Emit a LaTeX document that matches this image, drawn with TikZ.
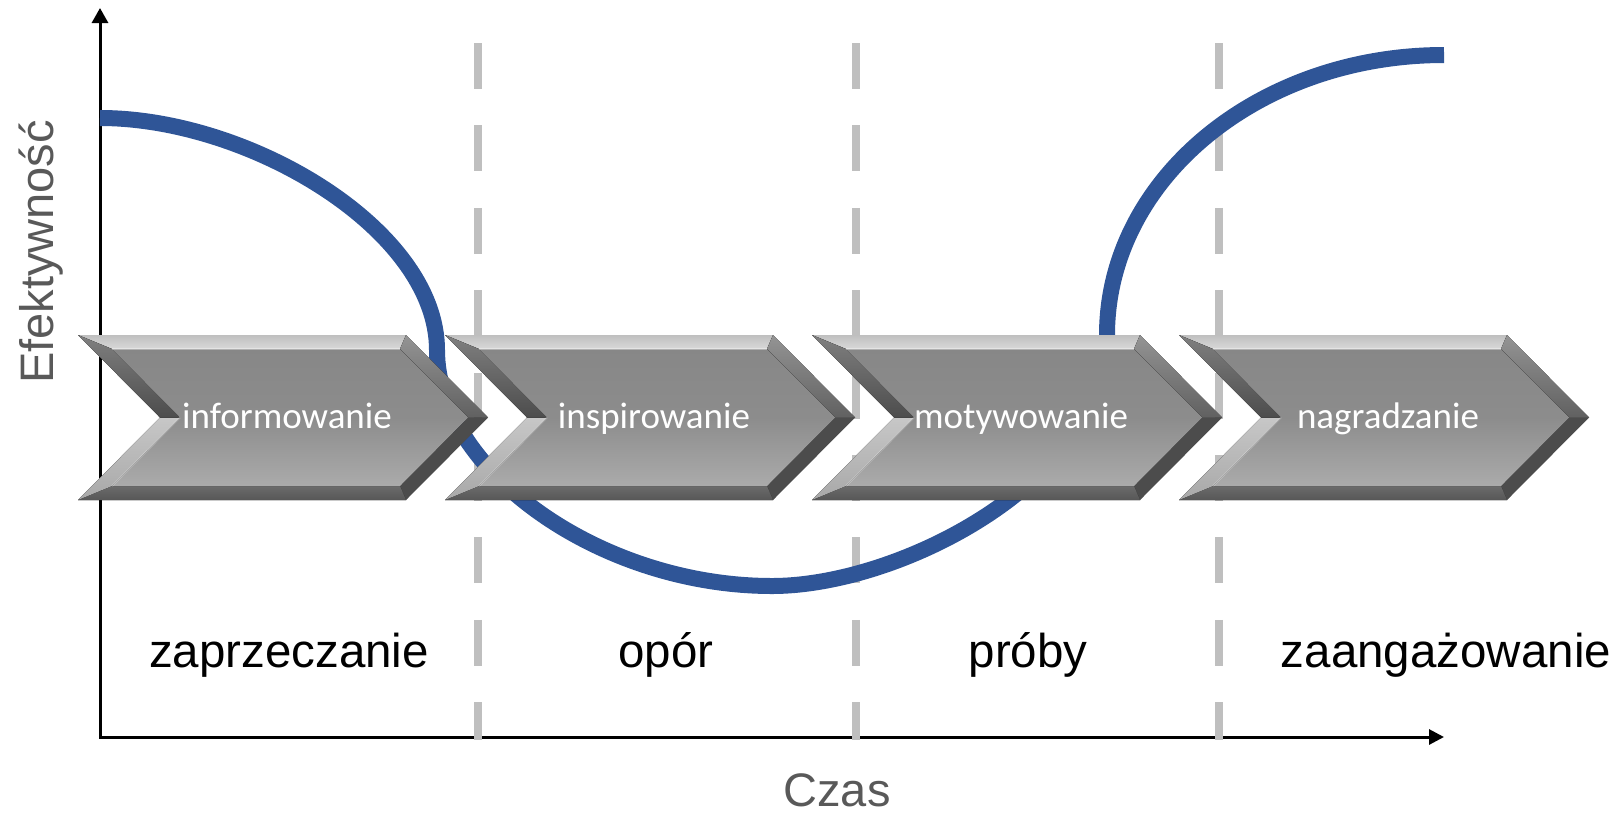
\documentclass[tikz,border=0pt]{standalone}
\usepackage{fontspec}
\setmainfont{Liberation Sans}
\newfontfamily\stagefont{Carlito}
\usetikzlibrary{arrows.meta}
\definecolor{curveblue}{HTML}{2F5597}
\definecolor{phasegray}{HTML}{BFBFBF}
\definecolor{axisgray}{HTML}{595959}

\begin{document}
\begin{tikzpicture}[x=1pt, y=-1pt,
    axis/.style={line width=3pt, {Triangle[length=15pt,width=16pt]}-{Triangle[length=15pt,width=15pt]}},
    phase/.style={phasegray, line width=8pt, dash pattern=on 46pt off 36.4pt},
    curve/.style={curveblue, line width=16pt},
    stagetext/.style={text=white, font=\stagefont\fontsize{37}{44}\selectfont, anchor=base, inner sep=0pt},
    phasetext/.style={font=\fontsize{47.5}{56}\selectfont, anchor=base, inner sep=0pt},
    axistext/.style={text=axisgray, font=\fontsize{47}{56}\selectfont, anchor=base, inner sep=0pt},
    chevron/.pic={
        \coordinate (-a) at (0,0);
        \coordinate (-b) at (328,0);
        \coordinate (-c) at (410,82.5);
        \coordinate (-d) at (328,165);
        \coordinate (-e) at (0,165);
        \coordinate (-f) at (82,82.5);
        \coordinate (-ai) at (34,14);
        \coordinate (-bi) at (322,14);
        \coordinate (-ci) at (390,82.5);
        \coordinate (-di) at (322,151);
        \coordinate (-ei) at (34,151);
        \coordinate (-fi) at (102,82.5);
        % soft shadow
        \fill[black, opacity=.08, xshift=1pt, yshift=-3pt] (-a) -- (-b) -- (-c) -- (-d) -- (-e) -- (-f) -- cycle;
        \fill[black, opacity=.08, xshift=3pt, yshift=-6pt] (-a) -- (-b) -- (-c) -- (-d) -- (-e) -- (-f) -- cycle;
        % bevel
        \fill[top color=black!25, bottom color=black!15] (-a) -- (-b) -- (-bi) -- (-ai) -- cycle;
        \fill[top color=black!42, bottom color=black!62] (-b) -- (-c) -- (-ci) -- (-bi) -- cycle;
        \fill[black!70] (-c) -- (-d) -- (-di) -- (-ci) -- cycle;
        \fill[top color=black!58, bottom color=black!66] (-d) -- (-e) -- (-ei) -- (-di) -- cycle;
        \fill[top color=black!22, bottom color=black!34] (-e) -- (-f) -- (-fi) -- (-ei) -- cycle;
        \fill[top color=black!50, bottom color=black!70] (-f) -- (-a) -- (-ai) -- (-fi) -- cycle;
        % face
        \fill[top color=black!47, bottom color=black!33, middle color=black!45] (-ai) -- (-bi) -- (-ci) -- (-di) -- (-ei) -- (-fi) -- cycle;
        \draw[white, opacity=.35, line width=1.5pt] (-ai) -- (-bi);
        \draw[white, opacity=.3, line width=1.5pt] (-ei) -- (-fi);
    }]
    \useasboundingbox (0,0) rectangle (1620,815);

    \coordinate (O) at (100,737);
    \coordinate (ytop) at (100,8);
    \coordinate (xend) at (1444,737);
    \draw[axis] (ytop) -- (O) -- (xend);

    \draw[phase] (478,43) -- (478,740);
    \draw[phase] (856,43) -- (856,740);
    \draw[phase] (1219,43) -- (1219,740);

    \coordinate (s0) at (100,118);
    \coordinate (s1) at (437,350);
    \coordinate (s2) at (772,586);
    \coordinate (s3) at (1107,335);
    \coordinate (s4) at (1444,55);
    \draw[curve] (s0) .. controls (250,118) and (437,230) .. (s1)
        .. controls (437,470) and (600,586) .. (s2)
        .. controls (900,586) and (1107,480) .. (s3)
        .. controls (1107,180) and (1258,55) .. (s4);

    \pic (ch1) at (78,335) {chevron};
    \pic (ch2) at (445,335) {chevron};
    \pic (ch3) at (812,335) {chevron};
    \pic (ch4) at (1179,335) {chevron};

    \node[stagetext] (inform) at (287,428) {informowanie};
    \node[stagetext] (inspir) at (654,428) {inspirowanie};
    \node[stagetext] (motyw) at (1021,428) {motywowanie};
    \node[stagetext] (nagr) at (1388,428) {nagradzanie};

    \node[phasetext] (zapr) at (289,667) {zaprzeczanie};
    \node[phasetext] (opor) at (666,667) {opór};
    \node[phasetext] (proby) at (1028,667) {próby};
    \node[phasetext] (zaang) at (1446,667) {zaangażowanie};

    \node[axistext] (czas) at (837,806) {Czas};
    \node[axistext, rotate=90] (efekt) at (53,252) {Efektywność};
\end{tikzpicture}
\end{document}
